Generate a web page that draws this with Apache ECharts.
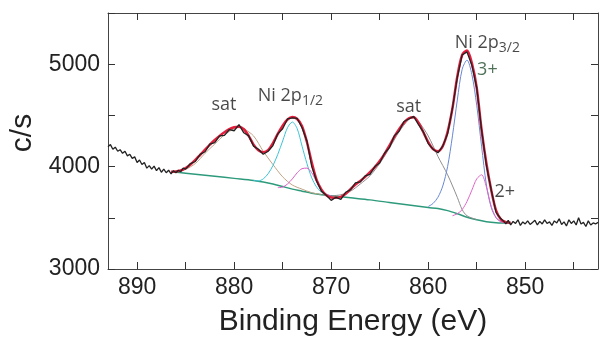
<!DOCTYPE html>
<html>
<head>
<meta charset="utf-8">
<script src="https://cdn.jsdelivr.net/npm/echarts@6/dist/echarts.min.js"></script>
<style>
  html, body { margin: 0; padding: 0; background: #fff; }
  #chart { width: 600px; height: 350px; }
</style>
</head>
<body>
<div id="chart"></div>
<script>
// 原始数据 [结合能 eV, c/s]
const rawData = [
  [893,4195],[892.75,4215],[892.5,4170],[892.25,4190],[892,4150],[891.75,4165],[891.5,4130],[891.25,4150],
  [891,4105],[890.75,4120],[890.5,4080],[890.25,4095],[890,4040],[889.75,4065],[889.5,4020],[889.25,4040],
  [889,3985],[888.75,4010],[888.5,3975],[888.25,4005],[888,3960],[887.75,3990],[887.5,3945],[887.25,3975],
  [887,3940],[886.75,3965],[886.5,3930],[886.25,3960],[886,3940],[885.75,3965],[885.5,3950],[885.25,3985],
  [885,3975],[884.5,4030],[884,4050],[883.5,4120],[883,4145],[882.5,4220],[882,4235],[881.5,4300],
  [881,4305],[880.5,4360],[880,4350],[879.5,4410],[879,4330],[878.5,4300],[878,4200],[877.5,4170],
  [877,4120],[876.5,4150],[876,4205],[875.5,4320],[875,4370],[874.5,4465],[874,4475],[873.5,4470],
  [873,4380],[872.5,4250],[872,4000],[871.5,3860],[871,3760],[870.5,3720],[870,3670],[869.5,3700],
  [869,3680],[868.5,3750],[868,3775],[867.5,3840],[867,3850],[866.5,3910],[866,3925],[865.5,4000],
  [865,4035],[864.5,4130],[864,4185],[863.5,4300],[863,4345],[862.5,4440],[862,4465],[861.5,4490],
  [861,4410],[860.5,4340],[860,4225],[859.5,4170],[859,4135],[858.5,4200],[858,4320],[857.5,4570],
  [857,4870],[856.5,5090],[856,5120],[855.5,4990],[855,4770],[854.5,4360],[854,4010],[853.5,3770],
  [853,3550],[852.5,3490],[852.25,3470],[852,3440],[851.75,3475],[851.5,3430],[851.25,3465],[851,3445],
  [850.75,3480],[850.5,3425],[850.25,3460],[850,3440],[849.75,3470],[849.5,3435],[849.25,3455],[849,3475],
  [848.75,3430],[848.5,3465],[848.25,3440],[848,3480],[847.75,3445],[847.5,3460],[847.25,3425],[847,3470],
  [846.75,3450],[846.5,3490],[846.25,3435],[846,3460],[845.75,3420],[845.5,3480],[845.25,3445],[845,3470],
  [844.75,3430],[844.5,3500],[844.25,3440],[844,3455],[843.75,3415],[843.5,3470],[843.25,3430],[843,3450],
  [842.75,3440],[842.5,3455]
];
// 拟合包络
const envelope = [
  [886.5,3950],[886,3952],[885.5,3962],[885,3985],[884.5,4020],[884,4065],[883.5,4115],[883,4165],
  [882.5,4215],[882,4260],[881.5,4300],[881,4335],[880.5,4365],[880,4385],[879.5,4390],[879,4365],
  [878.5,4300],[878,4215],[877.5,4160],[877,4140],[876.5,4160],[876,4230],[875.5,4320],[875,4400],
  [874.5,4460],[874,4485],[873.5,4465],[873,4395],[872.5,4240],[872,4040],[871.5,3870],[871,3775],
  [870.5,3720],[870,3698],[869.5,3695],[869,3705],[868.5,3735],[868,3780],[867.5,3825],[867,3860],
  [866.5,3900],[866,3945],[865.5,3995],[865,4055],[864.5,4125],[864,4205],[863.5,4290],[863,4365],
  [862.5,4430],[862,4472],[861.5,4482],[861,4430],[860.5,4335],[860,4240],[859.5,4170],[859,4150],
  [858.5,4200],[858,4340],[857.5,4570],[857,4880],[856.5,5090],[856,5135],[855.5,5010],[855,4770],
  [854.5,4360],[854,4030],[853.5,3770],[853,3570],[852.5,3485],[852,3458],[851.5,3452]
];
// 背景
const background = [
  [886.5,3950],[885,3935],[884,3925],[882,3905],[880,3885],[878,3865],[877,3850],[876,3830],
  [875,3805],[874,3780],[873,3760],[872,3740],[871,3725],[870,3715],[869,3705],[868,3695],
  [866,3675],[864,3650],[862,3625],[860,3600],[859,3590],[858,3570],[857,3540],[856,3505],
  [855,3480],[854,3462],[853,3452],[852,3448],[851.5,3446]
];
// 各拟合分量
const sat1 = [
  [886.5,3950],[885,3975],[884,4030],[883,4130],[882,4220],[881,4310],[880,4370],[879.5,4385],
  [879,4370],[878,4300],[877,4150],[876,4020],[875,3900],[874,3820],[873,3780],[872,3745],[871,3728]
];
const p12_3 = [
  [878,3865],[877.5,3860],[877,3880],[876.5,3930],[876,4010],[875.5,4120],[875,4250],[874.5,4380],
  [874,4435],[873.5,4370],[873,4200],[872.5,4030],[872,3890],[871.5,3800],[871,3750],[870.5,3725],[870,3715]
];
const p12_2 = [
  [875.5,3795],[875,3800],[874.5,3830],[874,3880],[873.5,3940],[873,3980],[872.5,3985],[872,3940],
  [871.5,3850],[871,3770],[870.5,3730],[870,3715]
];
const sat2 = [
  [870,3715],[869,3725],[868,3760],[867,3830],[866,3910],[865,4030],[864,4180],[863,4340],
  [862,4460],[861.5,4475],[861,4440],[860,4300],[859,4100],[858,3920],[857,3700],[856.5,3580],
  [856,3520],[855,3482]
];
const p32_3 = [
  [860,3610],[859.5,3640],[859,3700],[858.5,3810],[858,4000],[857.5,4300],[857,4650],[856.5,4950],
  [856,5040],[855.5,4900],[855,4600],[854.5,4200],[854,3820],[853.5,3600],[853,3500],[852.5,3465],[852,3450]
];
const p32_2 = [
  [857.5,3520],[857,3540],[856.5,3580],[856,3660],[855.5,3770],[855,3880],[854.5,3920],[854,3800],
  [853.5,3610],[853,3500],[852.5,3460],[852,3450]
];
// 标注 [x, y, 文字]
const notes = [
  [881.05,4602,'{a|sat}'],
  [874.2,4690,'{a|Ni 2p}{s|1/2}'],
  [862.0,4582,'{a|sat}'],
  [853.9,5210,'{a|Ni 2p}{s|3/2}'],
  [853.9,4943,'{g|3+}'],
  [852.1,3752,'{a|2+}']
];
const xTicks = [845,850,855,860,865,870,875,880,885,890];
const xLabels = [850,860,870,880,890];

let chart = echarts.init(document.getElementById('chart'));

//坐标轴，四边框，刻度朝内
function xAx(pos, showLabel){
  return {
    type:'value', position:pos, min:842.5, max:893, inverse:true,
    axisLine:{show:true, onZero:false, lineStyle:{color:'#444', width:1}},
    axisTick:{show:true, inside:true, length:7, customValues:xTicks, lineStyle:{color:'#333', width:1}},
    axisLabel:{show:showLabel, customValues:xLabels, fontSize:23, color:'#222',
      fontFamily:'Liberation Sans', margin:7, formatter:v => String(v)},
    splitLine:{show:false}
  };
}
function yAx(pos, showLabel){
  return {
    type:'value', position:pos, min:3000, max:5500, interval:500,
    axisLine:{show:true, onZero:false, lineStyle:{color:'#444', width:1}},
    axisTick:{show:true, inside:true, length:7, lineStyle:{color:'#333', width:1}},
    axisLabel:{show:showLabel, fontSize:23, color:'#222',
      fontFamily:'Liberation Sans', margin:8, formatter:v => (v % 1000 === 0 ? String(v) : '')},
    splitLine:{show:false}
  };
}
let xb = xAx('bottom', true);
xb.name = 'Binding Energy (eV)';
xb.nameLocation = 'middle';
xb.nameGap = 38;
xb.nameTextStyle = {fontSize:30, color:'#222', fontFamily:'Liberation Sans'};
let yl = yAx('left', true);
yl.name = 'c/s';
yl.nameLocation = 'middle';
yl.nameGap = 70;
yl.nameTextStyle = {fontSize:30, color:'#222', fontFamily:'Liberation Sans', padding:[0,0,0,16]};

function line(data, color, width, z){
  return {type:'line', data:data, showSymbol:false, symbol:'none', smooth:0.3,
    lineStyle:{color:color, width:width}, z:z, silent:true, animation:false};
}

let option = {
  animation:false,
  grid:{left:108, top:13, width:490, height:256, outerBoundsMode:'none'},
  xAxis:[xb, xAx('top', false)],
  yAxis:[yl, yAx('right', false)],
  series:[
    line(background, '#2e9a7c', 1.5, 2),
    line(sat1, '#c0a486', 1, 2),
    line(p12_3, '#3cc4d6', 1, 2),
    line(p12_2, '#dc5ec8', 1, 2),
    line(sat2, '#8e8e8e', 1, 2),
    line(p32_3, '#6888d4', 1, 2),
    line(p32_2, '#e064c8', 1, 2),
    line(envelope, '#e31d3c', 2.5, 3),
    Object.assign(line(rawData, '#222', 1.3, 4), {smooth:false}),
    {
      type:'scatter', data:notes, symbolSize:0, z:5, silent:true,
      label:{show:true, position:'inside', formatter:p => p.value[2],
        rich:{
          a:{fontSize:18, color:'#1a1a1a', fontFamily:'Open Sans', lineHeight:24},
          s:{fontSize:14, color:'#1a1a1a', fontFamily:'Open Sans', lineHeight:14, verticalAlign:'bottom'},
          g:{fontSize:18, color:'#234f30', fontFamily:'Open Sans', lineHeight:24}
        }}
    }
  ]
};
chart.setOption(option);
</script>
</body>
</html>
